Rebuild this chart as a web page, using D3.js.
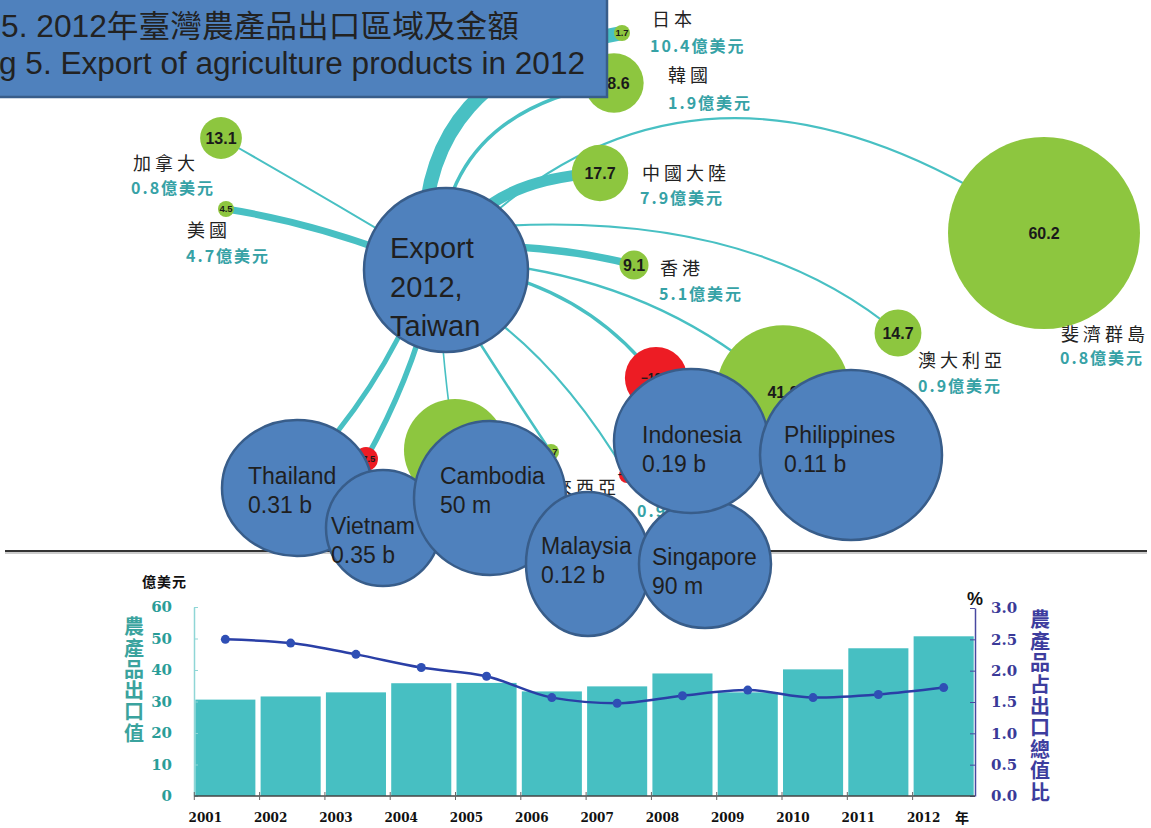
<!DOCTYPE html>
<html>
<head>
<meta charset="utf-8">
<script src="https://cdn.jsdelivr.net/npm/d3@7"></script>
<style>
body { margin: 0; background: #fff; }
svg { display: block; }
</style>
</head>
<body>
<svg id="chart" width="1151" height="828"></svg>
<script>
// destinations of 2012 exports: growth rate (%) and value (億美元)
const regions = ["日本", "韓國", "加拿大", "美國", "中國大陸", "香港", "斐濟群島", "澳大利亞",
  "泰國", "越南", "柬埔寨", "馬來西亞", "新加坡", "印尼", "菲律賓"];
const growth = [1.7, 18.6, 13.1, 4.5, 17.7, 9.1, 60.2, 14.7, 6.0, -7.5, 32.0, 4.7, -4.2, -19.5, 41.9];
const amount = [10.4, 1.9, 0.8, 4.7, 7.9, 5.1, 0.8, 0.9, 3.1, 3.5, 0.5, 1.2, 0.9, 1.9, 1.1];

// callout bubbles laid over the south-east asian nodes
const calloutNames = ["Thailand", "Vietnam", "Cambodia", "Malaysia", "Singapore", "Indonesia", "Philippines"];
const calloutValues = ["0.31 b", "0.35 b", "50 m", "0.12 b", "90 m", "0.19 b", "0.11 b"];

// lower chart
const years = ["2001", "2002", "2003", "2004", "2005", "2006", "2007", "2008", "2009", "2010", "2011", "2012"];
const exportValue = [30.6, 31.6, 32.9, 35.8, 35.9, 33.2, 34.8, 38.9, 32.9, 40.2, 46.9, 50.7];
const exportShare = [2.50, 2.44, 2.26, 2.05, 1.91, 1.57, 1.48, 1.60, 1.69, 1.57, 1.62, 1.73];
const leftTicks = [0, 10, 20, 30, 40, 50, 60];
const rightTicks = [0, 0.5, 1, 1.5, 2, 2.5, 3];

// ---- layout (hand placed, like the original diagram) ----
const nodeX = [622, 614, 221, 226, 600, 634, 1044, 898, 300, 366, 455, 551, 627, 656, 783];
const nodeY = [33, 83, 138, 209, 173, 265, 233, 333, 475, 459, 450, 452, 475, 378, 392];
const edgeStart = [[425, 255], [440, 250], [446, 270], [446, 275], [450, 255], [450, 245], [455, 250], [450, 230],
  [420, 290], [430, 300], [440, 300], [446, 290], [450, 290], [450, 265], [450, 260]];
const edgeCtrl = [[415, 70], [450, 110], [330, 200], [330, 225], [480, 180], [560, 245], [700, -5], [740, 200],
  [380, 390], [410, 380], [442, 360], [490, 360], [550, 345], [580, 280], [650, 270]];
// [nameX, nameY, amountX, amountY]
const labelPos = [[652, 26, 650, 52], [668, 82, 668, 109], [133, 170, 131, 194], [187, 237, 186, 262],
  [642, 180, 640, 204], [660, 275, 659, 300], [1061, 341, 1060, 364], [918, 367, 918, 392],
  null, null, null, [532, 494, null, null], [null, null, 637, 517], null, null];
// [cx, cy, rx, ry, textX, textY]
const calloutPos = [[297, 488, 75, 68, 248, 484], [383, 528, 57, 58, 331, 534], [490, 498, 76, 77, 440, 484],
  [588, 564, 62, 72, 541, 554], [705, 564, 66, 64, 652, 565], [691, 441, 77, 72, 642, 443],
  [851, 455, 91, 85, 784, 443]];

const BLUE = "#4f81bd", BLUE_EDGE = "#385d8a";
const TEAL = "#48c0c3", GREEN = "#8dc63f", RED = "#ed1c24";
const SANS = "'Liberation Sans', Arial, sans-serif";
const CJK = "'Noto Sans CJK TC', 'Noto Sans CJK SC', sans-serif";
const SERIF = "'DejaVu Serif', serif";

const svg = d3.select("#chart");
const idx = regions.map((d, i) => i);

const rScale = d3.scaleLinear().domain([0, 60.2]).range([0, 96]);
const radius = i => Math.max(8, rScale(Math.abs(growth[i])));
const wScale = d3.scaleLinear().domain([0, 10.4]).range([1, 14]);

// flows
svg.append("g")
	.selectAll("path")
	.data(idx)
	.join("path")
	.attr("d", i => {
		const p = d3.path();
		p.moveTo(edgeStart[i][0], edgeStart[i][1]);
		p.quadraticCurveTo(edgeCtrl[i][0], edgeCtrl[i][1], nodeX[i], nodeY[i]);
		return p.toString();
	})
	.attr("fill", "none")
	.attr("stroke", TEAL)
	.attr("stroke-width", i => wScale(amount[i]));

// growth bubbles
const nodes = svg.append("g").selectAll("g").data(idx).join("g")
	.attr("transform", i => `translate(${nodeX[i]},${nodeY[i]})`);
nodes.append("circle")
	.attr("r", radius)
	.attr("fill", i => growth[i] < 0 ? RED : GREEN);
nodes.append("text")
	.attr("text-anchor", "middle")
	.attr("dy", "0.36em")
	.attr("font-family", SANS)
	.attr("font-weight", "bold")
	.attr("font-size", i => radius(i) < 14 ? 9.5 : (growth[i] < 0 ? 12 : 16))
	.attr("fill", "#1a1a1a")
	.text(i => d3.format(".1f")(growth[i]));

// names and values
const labels = svg.append("g");
idx.forEach(i => {
	const p = labelPos[i];
	if (!p) return;
	if (p[0] != null) {
		labels.append("text")
			.attr("x", p[0]).attr("y", p[1])
			.attr("font-family", CJK).attr("font-size", 18)
			.attr("letter-spacing", 4).attr("fill", "#222")
			.text(regions[i]);
	}
	if (p[2] != null) {
		labels.append("text")
			.attr("x", p[2]).attr("y", p[3])
			.attr("font-family", CJK).attr("font-size", 16).attr("font-weight", "bold")
			.attr("letter-spacing", 2).attr("fill", "#36a2a6")
			.text(`${amount[i].toFixed(1)}億美元`);
	}
});

// centre bubble
svg.append("circle")
	.attr("cx", 446).attr("cy", 270).attr("r", 82)
	.attr("fill", BLUE).attr("stroke", BLUE_EDGE).attr("stroke-width", 2.5);
svg.append("text")
	.attr("font-family", SANS).attr("font-size", 29).attr("fill", "#1f1f1f")
	.selectAll("tspan")
	.data(["Export", "2012,", "Taiwan"])
	.join("tspan")
	.attr("x", 390)
	.attr("y", (d, i) => 258 + i * 39)
	.text(d => d);

// divider
svg.append("line")
	.attr("x1", 5).attr("x2", 1147).attr("y1", 553).attr("y2", 553)
	.attr("stroke", "#ccc").attr("stroke-width", 2);
svg.append("line")
	.attr("x1", 5).attr("x2", 1147).attr("y1", 551).attr("y2", 551)
	.attr("stroke", "#333").attr("stroke-width", 2);

// ---- lower chart ----
const x = d3.scaleBand().domain(years).range([194, 975]).paddingInner(0.08).paddingOuter(0.02);
const yL = d3.scaleLinear().domain([0, 60]).range([796, 607]);
const yR = d3.scaleLinear().domain([0, 3]).range([796, 608]);

const chart = svg.append("g");

chart.selectAll("rect")
	.data(years)
	.join("rect")
	.attr("x", d => x(d))
	.attr("y", (d, i) => yL(exportValue[i]))
	.attr("width", x.bandwidth())
	.attr("height", (d, i) => yL(0) - yL(exportValue[i]))
	.attr("fill", "#47bfc2");

const axL = chart.append("g")
	.attr("transform", "translate(194,0)")
	.call(d3.axisLeft(yL).tickValues(leftTicks).tickSizeInner(-4).tickSizeOuter(0).tickPadding(22));
axL.select(".domain").attr("stroke", "#8fd6d6").attr("stroke-width", 1.5);
axL.selectAll(".tick line").attr("stroke", "#8fd6d6");
axL.selectAll(".tick text")
	.attr("font-family", SERIF).attr("font-weight", "bold").attr("font-size", 15).attr("fill", "#2a9d98");

const axR = chart.append("g")
	.attr("transform", "translate(975,0)")
	.call(d3.axisRight(yR).tickValues(rightTicks).tickFormat(d3.format(".1f"))
		.tickSizeInner(-5).tickSizeOuter(0).tickPadding(16));
axR.select(".domain").attr("stroke", "#4848a0").attr("stroke-width", 1.5);
axR.selectAll(".tick line").attr("stroke", "#4848a0");
axR.selectAll(".tick text")
	.attr("font-family", SERIF).attr("font-weight", "bold").attr("font-size", 15).attr("fill", "#3a3a98");

// category axis
chart.append("line")
	.attr("x1", 194).attr("x2", 975).attr("y1", 796).attr("y2", 796)
	.attr("stroke", "#444").attr("stroke-width", 1.5);
chart.append("g").selectAll("line").data(years).join("line")
	.attr("x1", d => x(d) - 1).attr("x2", d => x(d) - 1)
	.attr("y1", 792).attr("y2", 800)
	.attr("stroke", "#666");
chart.append("g").selectAll("text").data(years).join("text")
	.attr("x", d => x(d) + 10).attr("y", 822)
	.attr("text-anchor", "middle")
	.attr("font-family", SERIF).attr("font-weight", "bold").attr("font-size", 12).attr("fill", "#111")
	.text(d => d);
chart.append("text")
	.attr("x", 955).attr("y", 823)
	.attr("font-family", CJK).attr("font-weight", "bold").attr("font-size", 14).attr("fill", "#111")
	.text("年");

// share line
const line = d3.line()
	.x((d, i) => x(years[i]) + x.bandwidth() / 2)
	.y(d => yR(d))
	.curve(d3.curveMonotoneX);
chart.append("path")
	.datum(exportShare)
	.attr("d", line)
	.attr("fill", "none")
	.attr("stroke", "#2a3fa6")
	.attr("stroke-width", 2.5);
chart.append("g").selectAll("circle").data(exportShare).join("circle")
	.attr("cx", (d, i) => x(years[i]) + x.bandwidth() / 2)
	.attr("cy", d => yR(d))
	.attr("r", 4.5)
	.attr("fill", "#2f4fb5");

// axis titles
chart.append("text")
	.attr("x", 142).attr("y", 587)
	.attr("font-family", CJK).attr("font-weight", "bold").attr("font-size", 14)
	.attr("letter-spacing", 1).attr("fill", "#111")
	.text("億美元");
chart.append("g").selectAll("text").data(Array.from("農產品出口值")).join("text")
	.attr("x", 134).attr("y", (d, i) => 627 + i * 21.3)
	.attr("dy", "0.36em").attr("text-anchor", "middle")
	.attr("font-family", CJK).attr("font-weight", "bold").attr("font-size", 20).attr("fill", "#3aa39e")
	.text(d => d);
chart.append("text")
	.attr("x", 967).attr("y", 605)
	.attr("font-family", SANS).attr("font-weight", "bold").attr("font-size", 18).attr("fill", "#111")
	.text("%");
chart.append("g").selectAll("text").data(Array.from("農產品占出口總值比")).join("text")
	.attr("x", 1040).attr("y", (d, i) => 620 + i * 21.6)
	.attr("dy", "0.36em").attr("text-anchor", "middle")
	.attr("font-family", CJK).attr("font-weight", "bold").attr("font-size", 20).attr("fill", "#3d3d9e")
	.text(d => d);

// ---- callouts ----
const callouts = svg.append("g").selectAll("g").data(calloutNames).join("g");
callouts.append("ellipse")
	.attr("cx", (d, i) => calloutPos[i][0]).attr("cy", (d, i) => calloutPos[i][1])
	.attr("rx", (d, i) => calloutPos[i][2]).attr("ry", (d, i) => calloutPos[i][3])
	.attr("fill", BLUE).attr("stroke", BLUE_EDGE).attr("stroke-width", 2.5);
callouts.append("text")
	.attr("font-family", SANS).attr("font-size", 23).attr("fill", "#1f1f1f")
	.selectAll("tspan")
	.data((d, i) => [[d, i, 0], [calloutValues[i], i, 1]])
	.join("tspan")
	.attr("x", d => calloutPos[d[1]][4])
	.attr("y", d => calloutPos[d[1]][5] + d[2] * 29)
	.text(d => d[0]);

// ---- title box ----
svg.append("rect")
	.attr("x", -3).attr("y", -3).attr("width", 610).attr("height", 100)
	.attr("fill", BLUE).attr("stroke", BLUE_EDGE).attr("stroke-width", 2.5);
svg.append("text")
	.attr("x", 1).attr("y", 37)
	.attr("font-family", `${SANS}, ${CJK}`).attr("font-size", 31).attr("fill", "#222")
	.attr("textLength", 518).attr("lengthAdjust", "spacingAndGlyphs")
	.text("5. 2012年臺灣農產品出口區域及金額");
svg.append("text")
	.attr("x", -1).attr("y", 74)
	.attr("font-family", SANS).attr("font-size", 31).attr("fill", "#222")
	.attr("textLength", 586).attr("lengthAdjust", "spacingAndGlyphs")
	.text("g 5. Export of agriculture products in 2012");
</script>
</body>
</html>
